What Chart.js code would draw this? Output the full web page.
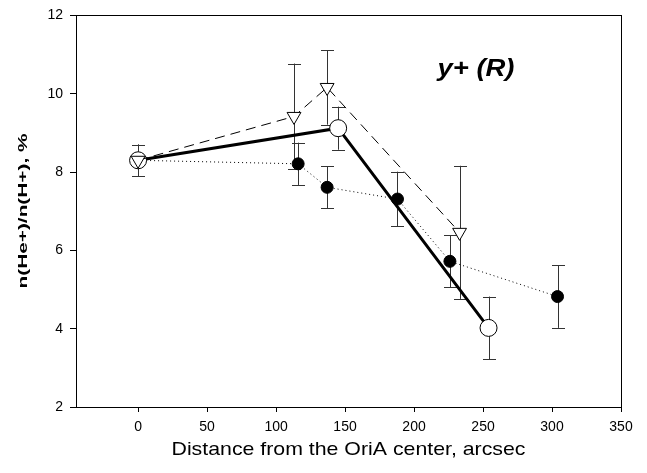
<!DOCTYPE html>
<html>
<head>
<meta charset="utf-8">
<script src="https://cdn.jsdelivr.net/npm/chart.js@4.4.1/dist/chart.umd.min.js"></script>
<style>
  html, body { margin: 0; padding: 0; background: #fff; }
  #wrap { width: 647px; height: 473px; position: relative; }
</style>
</head>
<body>
<div id="wrap"><canvas id="chart"></canvas></div>
<script>
// distancias (arcsec), valores y errores
const triX = [0, 113, 137, 233];
const triY = [8.3, 9.42, 10.16, 6.46];
const triErr = [0.4, 1.35, 0.95, 1.7];

const openX = [0, 145, 254];
const openY = [8.3, 9.12, 4.02];
const openErr = [0.4, 0.55, 0.8];

const fillX = [0, 116, 137, 188, 226, 304];
const fillY = [8.3, 8.21, 7.61, 7.31, 5.72, 4.82];
const fillErr = [0.4, 0.54, 0.54, 0.7, 0.66, 0.8];

const xTicks = [0, 50, 100, 150, 200, 250, 300, 350];
const yTicks = [2, 4, 6, 8, 10, 12];

const xTitle = "Distance from the OriA center, arcsec";
const yTitle = "n(He+)/n(H+), %";
const panelLabel = "y+ (R)";
const panelLabelPos = { x: 217, y: 10.44 };

const fontFam = "Arial, 'Liberation Sans', sans-serif";

function toPoints(xs, ys) {
    return xs.map((x, i) => ({ x: x, y: ys[i] }));
}

// texto estirado a un largo dado (el original sale algo ensanchado)
function stretchedText(ctx, text, font, x, y, length, angle, align, baseline) {
    ctx.save();
    ctx.font = font;
    const w = ctx.measureText(text).width;
    ctx.translate(x, y);
    ctx.rotate(angle);
    ctx.scale(length / w, 1);
    ctx.textAlign = align || "center";
    ctx.textBaseline = baseline || "middle";
    ctx.fillStyle = "#000";
    ctx.fillText(text, 0, 0);
    ctx.restore();
}

// barras de error + marco + etiquetas
const errorBars = {
    id: "errorBars",
    beforeDatasetsDraw(chart) {
        const ctx = chart.ctx;
        const xs = chart.scales.x, ys = chart.scales.y;
        ctx.save();
        ctx.strokeStyle = "#333";
        ctx.lineWidth = 1;
        chart.data.datasets.forEach((ds) => {
            ds.data.forEach((p, i) => {
                const e = ds.errors[i];
                const px = Math.round(xs.getPixelForValue(p.x)) + 0.5;
                const top = ys.getPixelForValue(p.y + e);
                const bot = ys.getPixelForValue(p.y - e);
                ctx.beginPath();
                ctx.moveTo(px, top);
                ctx.lineTo(px, bot);
                ctx.moveTo(px - 6.5, Math.round(top) + 0.5);
                ctx.lineTo(px + 6.5, Math.round(top) + 0.5);
                ctx.moveTo(px - 6.5, Math.round(bot) + 0.5);
                ctx.lineTo(px + 6.5, Math.round(bot) + 0.5);
                ctx.stroke();
            });
        });
        ctx.restore();
    },
    afterDraw(chart) {
        const ctx = chart.ctx;
        const a = chart.chartArea;
        ctx.save();
        ctx.strokeStyle = "#000";
        ctx.lineWidth = 1;
        ctx.strokeRect(Math.round(a.left) + 0.5, Math.round(a.top) + 0.5,
            Math.round(a.right - a.left), Math.round(a.bottom - a.top));
        ctx.restore();

        stretchedText(ctx, panelLabel, "italic bold 23px " + fontFam,
            chart.scales.x.getPixelForValue(panelLabelPos.x),
            chart.scales.y.getPixelForValue(panelLabelPos.y),
            77, 0, "left", "alphabetic");
        stretchedText(ctx, xTitle, "19px " + fontFam, (a.left + a.right) / 2, 450, 354, 0);
        stretchedText(ctx, yTitle, "bold 13px " + fontFam, 23, 211, 155, -Math.PI / 2);
    },
};

new Chart(document.getElementById("chart"), {
    type: "scatter",
    data: {
        datasets: [
            {
                label: "triangles",
                data: toPoints(triX, triY),
                errors: triErr,
                showLine: true,
                borderColor: "#000",
                borderWidth: 1,
                borderDash: [10, 6],
                pointStyle: "triangle",
                pointRotation: 180,
                pointRadius: 8,
                pointBorderWidth: 1,
                pointBackgroundColor: "#fff",
                pointBorderColor: "#000",
            },
            {
                label: "open",
                data: toPoints(openX, openY),
                errors: openErr,
                showLine: true,
                borderColor: "#000",
                borderWidth: 3,
                pointStyle: "circle",
                pointRadius: 8.5,
                pointBorderWidth: 1,
                pointBackgroundColor: "#fff",
                pointBorderColor: "#000",
            },
            {
                label: "filled",
                data: toPoints(fillX, fillY),
                errors: fillErr,
                showLine: true,
                borderColor: "#000",
                borderWidth: 1,
                borderDash: [1, 3],
                pointStyle: "circle",
                pointRadius: 6,
                pointBorderWidth: 1,
                pointBackgroundColor: "#000",
                pointBorderColor: "#000",
            },
        ],
    },
    options: {
        responsive: true,
        maintainAspectRatio: false,
        animation: false,
        layout: { padding: { top: 15, right: 26, left: 0, bottom: 0 } },
        plugins: {
            legend: { display: false },
            tooltip: { enabled: false },
        },
        scales: {
            x: {
                type: "linear",
                min: -45,
                max: 350,
                afterBuildTicks: (s) => { s.ticks = xTicks.map((v) => ({ value: v })); },
                afterFit: (s) => { s.height = 66; },
                grid: { display: true, drawOnChartArea: false, drawTicks: true, tickLength: 5, color: "#000" },
                border: { display: true, color: "#000" },
                ticks: { color: "#000", font: { size: 14, family: fontFam }, padding: 7, maxRotation: 0 },
            },
            y: {
                type: "linear",
                min: 2,
                max: 12,
                afterBuildTicks: (s) => { s.ticks = yTicks.map((v) => ({ value: v })); },
                afterFit: (s) => { s.width = 76; },
                grid: { display: true, drawOnChartArea: false, drawTicks: true, tickLength: 6, color: "#000" },
                border: { display: true, color: "#000" },
                ticks: { color: "#000", font: { size: 14, family: fontFam }, padding: 7 },
            },
        },
    },
    plugins: [errorBars],
});
</script>
</body>
</html>
